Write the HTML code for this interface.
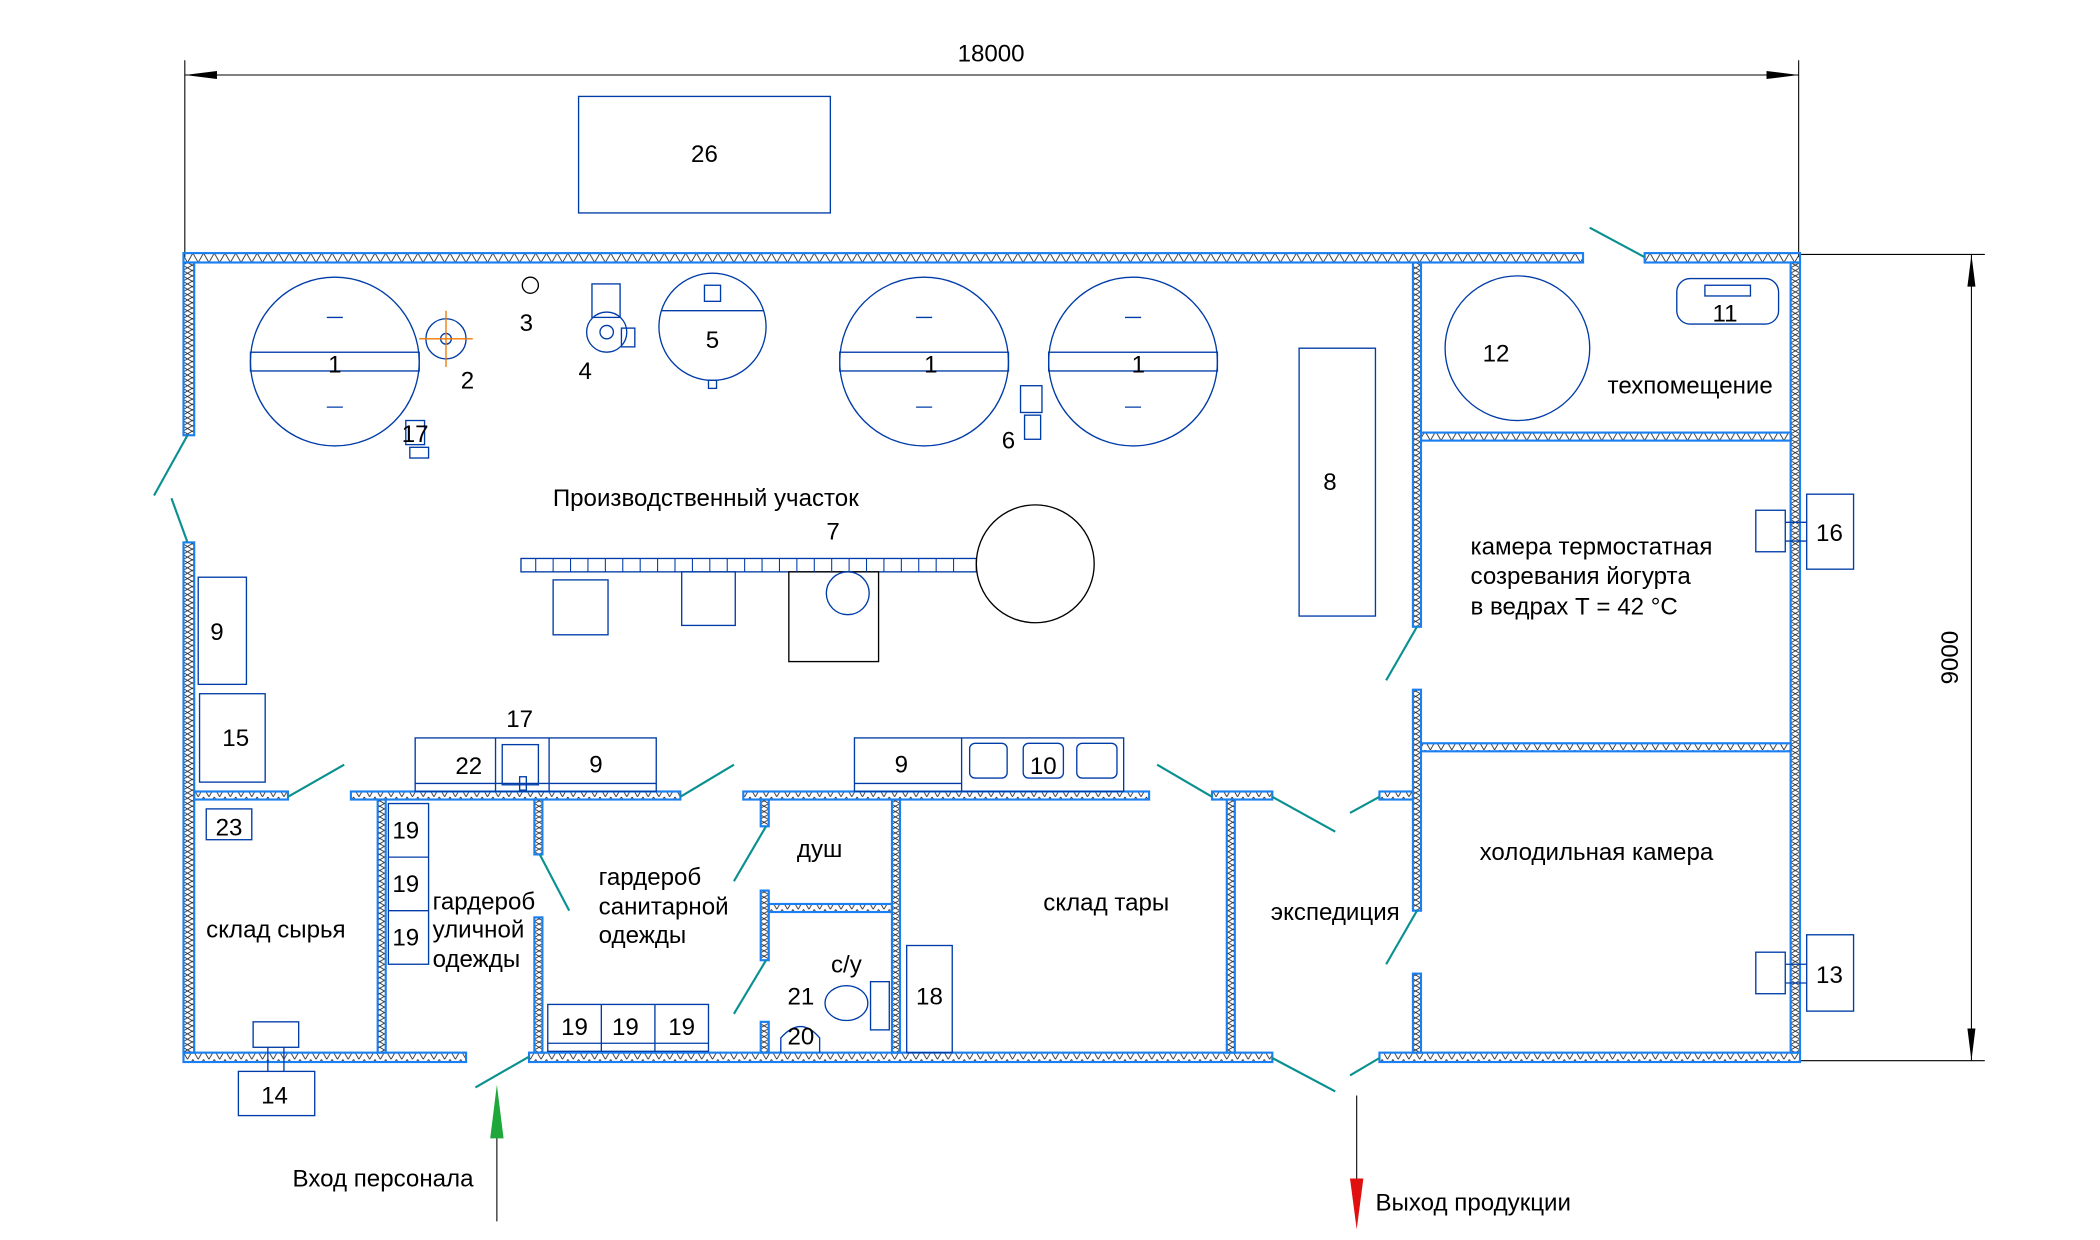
<!DOCTYPE html>
<html><head><meta charset="utf-8"><style>
html,body{margin:0;padding:0;background:#fff;}
svg{display:block}
text{font-family:"Liberation Sans Narrow","Liberation Sans",sans-serif;fill:#000;}
</style></head><body>
<svg width="2100" height="1240" viewBox="0 0 1568 925.9" preserveAspectRatio="none" xmlns="http://www.w3.org/2000/svg">
<defs>
<pattern id="hh" width="8" height="7" patternUnits="userSpaceOnUse"><path d="M0,0 L4,7 L8,0" fill="none" stroke="#222" stroke-width="0.6"/></pattern>
<pattern id="hv" width="7" height="8" patternUnits="userSpaceOnUse"><path d="M0,0 L7,4 L0,8 M7,0 L0,4 L7,8" fill="none" stroke="#222" stroke-width="0.6"/></pattern>
</defs>
<g fill="none" stroke="#000" stroke-width="0.8">
<line x1="138" y1="45" x2="138" y2="192"/><line x1="1343" y1="45" x2="1343" y2="192"/>
<line x1="138" y1="56" x2="1343" y2="56"/>
<line x1="1344" y1="190" x2="1482" y2="190"/><line x1="1344" y1="792" x2="1482" y2="792"/>
<line x1="1472" y1="190" x2="1472" y2="792"/>
</g>
<g fill="#000">
<path d="M138,56 L162,53 L162,59Z"/><path d="M1343,56 L1319,53 L1319,59Z"/>
<path d="M1472,190 L1469,214 L1475,214Z"/><path d="M1472,792 L1469,768 L1475,768Z"/>
</g>
<text x="740" y="46" font-size="18" text-anchor="middle">18000</text>
<text x="1462" y="491" font-size="18" text-anchor="middle" transform="rotate(-90 1462 491)">9000</text>

<g fill="url(#hh)" stroke="#1a7ff0" stroke-width="1.6">
<rect x="137" y="189" width="1045" height="7"/>
<rect x="1228" y="189" width="116" height="7"/>
<rect x="137" y="786" width="211" height="7"/>
<rect x="395" y="786" width="555" height="7"/>
<rect x="1030" y="786" width="314" height="7"/>
<rect x="1061" y="323" width="276" height="6"/>
<rect x="1061" y="555" width="276" height="6"/>
<rect x="145" y="591" width="70" height="6"/>
<rect x="262" y="591" width="246" height="6"/>
<rect x="555" y="591" width="303" height="6"/>
<rect x="905" y="591" width="45" height="6"/>
<rect x="1030" y="591" width="25" height="6"/>
<rect x="574" y="675" width="92" height="6"/>
</g>
<g fill="url(#hv)" stroke="#1a7ff0" stroke-width="1.6">
<rect x="137" y="196" width="8" height="129"/>
<rect x="137" y="405" width="8" height="381"/>
<rect x="1337" y="196" width="7" height="590"/>
<rect x="1055" y="196" width="6" height="272"/>
<rect x="1055" y="515" width="6" height="165"/>
<rect x="1055" y="727" width="6" height="59"/>
<rect x="282" y="597" width="6" height="189"/>
<rect x="399" y="597" width="6" height="41"/>
<rect x="399" y="685" width="6" height="101"/>
<rect x="568" y="597" width="6" height="20"/>
<rect x="568" y="665" width="6" height="52"/>
<rect x="568" y="763" width="6" height="23"/>
<rect x="666" y="597" width="6" height="189"/>
<rect x="916" y="597" width="6" height="189"/>
</g>
<g stroke="#0a9090" stroke-width="1.6">
<line x1="1187" y1="170" x2="1228" y2="192"/>
<line x1="140" y1="325" x2="115" y2="370"/><line x1="128" y1="372" x2="140" y2="405"/>
<line x1="215" y1="595" x2="257" y2="571"/><line x1="508" y1="595" x2="548" y2="571"/>
<line x1="548" y1="658" x2="572" y2="617"/><line x1="548" y1="757" x2="572" y2="717"/>
<line x1="403" y1="638" x2="425" y2="680"/><line x1="355" y1="812" x2="395" y2="789"/>
<line x1="864" y1="571" x2="905" y2="595"/><line x1="950" y1="595" x2="997" y2="621"/>
<line x1="1008" y1="607" x2="1030" y2="595"/><line x1="950" y1="790" x2="997" y2="815"/>
<line x1="1008" y1="803" x2="1030" y2="790"/><line x1="1035" y1="508" x2="1058" y2="468"/>
<line x1="1035" y1="720" x2="1058" y2="680"/>
</g>

<g fill="none" stroke="#003ca8" stroke-width="1">
<rect x="432" y="72" width="188" height="87"/>
<circle cx="250" cy="270" r="63"/><rect x="187" y="263" width="126" height="14"/>
<line x1="244" y1="237" x2="256" y2="237"/><line x1="244" y1="304" x2="256" y2="304"/>
<circle cx="690" cy="270" r="63"/><rect x="627" y="263" width="126" height="14"/>
<line x1="684" y1="237" x2="696" y2="237"/><line x1="684" y1="304" x2="696" y2="304"/>
<circle cx="846" cy="270" r="63"/><rect x="783" y="263" width="126" height="14"/>
<line x1="840" y1="237" x2="852" y2="237"/><line x1="840" y1="304" x2="852" y2="304"/>
<circle cx="333" cy="253" r="15"/><circle cx="333" cy="253" r="4"/>
<circle cx="396" cy="213" r="6" stroke="#000"/>
<rect x="442" y="212" width="21" height="25"/><circle cx="453" cy="248" r="15"/><circle cx="453" cy="248" r="5"/>
<rect x="464" y="245" width="10" height="14"/>
<circle cx="532" cy="244" r="40"/><line x1="494" y1="232" x2="570" y2="232"/><rect x="526" y="213" width="12" height="12"/><rect x="529" y="284" width="6" height="6"/>
<rect x="762" y="288" width="16" height="20"/><rect x="765" y="310" width="12" height="18"/>
<rect x="303" y="314" width="14" height="18"/><rect x="306" y="334" width="14" height="8"/>
<rect x="970" y="260" width="57" height="200"/>
<circle cx="1133" cy="260" r="54"/>
<rect x="1252" y="208" width="76" height="34" rx="10"/><rect x="1273" y="213" width="34" height="8"/>
<rect x="389" y="417" width="340" height="10"/>
<circle cx="773" cy="421" r="44" stroke="#000"/>
<rect x="413" y="433" width="41" height="41"/><rect x="509" y="427" width="40" height="40"/>
<rect x="589" y="427" width="67" height="67" stroke="#000"/><circle cx="633" cy="443" r="16"/>
<rect x="1349" y="369" width="35" height="56"/><rect x="1311" y="381" width="22" height="31"/><line x1="1333" y1="390" x2="1349" y2="390"/><line x1="1333" y1="404" x2="1349" y2="404"/>
<rect x="1349" y="698" width="35" height="57"/><rect x="1311" y="711" width="22" height="31"/><line x1="1333" y1="720" x2="1349" y2="720"/><line x1="1333" y1="734" x2="1349" y2="734"/>
<rect x="148" y="431" width="36" height="80"/><rect x="149" y="518" width="49" height="66"/>
<rect x="154" y="604" width="34" height="23"/>
<rect x="178" y="800" width="57" height="33"/><rect x="189" y="763" width="34" height="19"/><line x1="200" y1="782" x2="200" y2="800"/><line x1="212" y1="782" x2="212" y2="800"/>
<rect x="290" y="600" width="30" height="120"/><line x1="290" y1="640" x2="320" y2="640"/><line x1="290" y1="680" x2="320" y2="680"/>
<rect x="409" y="750" width="120" height="35"/><line x1="449" y1="750" x2="449" y2="785"/><line x1="489" y1="750" x2="489" y2="785"/><line x1="409" y1="779" x2="529" y2="779"/>
<rect x="310" y="551" width="180" height="40"/><line x1="370" y1="551" x2="370" y2="591"/><line x1="410" y1="551" x2="410" y2="591"/><line x1="310" y1="585" x2="490" y2="585"/>
<rect x="375" y="556" width="27" height="30"/><rect x="388" y="580" width="5" height="10"/>
<rect x="638" y="551" width="201" height="40"/><line x1="718" y1="551" x2="718" y2="591"/><line x1="638" y1="585" x2="718" y2="585"/>
<rect x="724" y="555" width="28" height="26" rx="4"/><rect x="764" y="555" width="30" height="26" rx="4"/><rect x="804" y="555" width="30" height="26" rx="4"/>
<rect x="677" y="706" width="34" height="80"/>
<ellipse cx="632" cy="749" rx="16" ry="13"/><rect x="650" y="733" width="14" height="36"/>
<path d="M583,786 L583,775 Q598,758 612,775 L612,786"/>
</g>
<g stroke="#003ca8" stroke-width="0.8">
<line x1="400" y1="417" x2="400" y2="427"/><line x1="413" y1="417" x2="413" y2="427"/><line x1="426" y1="417" x2="426" y2="427"/><line x1="439" y1="417" x2="439" y2="427"/><line x1="452" y1="417" x2="452" y2="427"/><line x1="465" y1="417" x2="465" y2="427"/><line x1="478" y1="417" x2="478" y2="427"/><line x1="491" y1="417" x2="491" y2="427"/><line x1="504" y1="417" x2="504" y2="427"/><line x1="517" y1="417" x2="517" y2="427"/><line x1="530" y1="417" x2="530" y2="427"/><line x1="543" y1="417" x2="543" y2="427"/><line x1="556" y1="417" x2="556" y2="427"/><line x1="569" y1="417" x2="569" y2="427"/><line x1="582" y1="417" x2="582" y2="427"/><line x1="595" y1="417" x2="595" y2="427"/><line x1="608" y1="417" x2="608" y2="427"/><line x1="621" y1="417" x2="621" y2="427"/><line x1="634" y1="417" x2="634" y2="427"/><line x1="647" y1="417" x2="647" y2="427"/><line x1="660" y1="417" x2="660" y2="427"/><line x1="673" y1="417" x2="673" y2="427"/><line x1="686" y1="417" x2="686" y2="427"/><line x1="699" y1="417" x2="699" y2="427"/><line x1="712" y1="417" x2="712" y2="427"/>
</g>
<g stroke="#f07800" stroke-width="1"><line x1="333" y1="232" x2="333" y2="274"/><line x1="313" y1="253" x2="353" y2="253"/></g>
<line x1="371" y1="912" x2="371" y2="830" stroke="#000" stroke-width="0.8"/>
<path d="M371,810 L366,850 L376,850Z" fill="#1fa83a"/>
<line x1="1013" y1="818" x2="1013" y2="900" stroke="#000" stroke-width="0.8"/>
<path d="M1013,918 L1008,880 L1018,880Z" fill="#e01010"/>

<g font-size="18" text-anchor="middle">
<text x="526" y="121">26</text>
<text x="250" y="278">1</text><text x="695" y="278">1</text><text x="850" y="278">1</text>
<text x="349" y="290">2</text><text x="393" y="247">3</text><text x="437" y="283">4</text><text x="532" y="260">5</text>
<text x="753" y="335">6</text><text x="310" y="330">17</text><text x="622" y="403">7</text>
<text x="993" y="366">8</text><text x="1117" y="270">12</text><text x="1288" y="240">11</text>
<text x="1366" y="404">16</text><text x="1366" y="734">13</text>
<text x="162" y="478">9</text><text x="176" y="557">15</text><text x="171" y="624">23</text><text x="205" y="824">14</text>
<text x="303" y="626">19</text><text x="303" y="666">19</text><text x="303" y="706">19</text>
<text x="429" y="773">19</text><text x="467" y="773">19</text><text x="509" y="773">19</text>
<text x="350" y="578">22</text><text x="388" y="543">17</text><text x="445" y="577">9</text>
<text x="673" y="577">9</text><text x="779" y="578">10</text>
<text x="694" y="750">18</text><text x="598" y="750">21</text><text x="598" y="780">20</text>
<text x="527" y="378">Производственный участок</text>
<text x="1262" y="294">техпомещение</text>
<text x="1192" y="642">холодильная камера</text>
<text x="997" y="687">экспедиция</text>
<text x="826" y="680">склад тары</text>
<text x="612" y="640">душ</text>
<text x="632" y="726">с/у</text>
<text x="206" y="700">склад сырья</text>
<text x="286" y="886">Вход персонала</text>
<text x="1100" y="904">Выход продукции</text>
</g>
<g font-size="18">
<text x="1098" y="414">камера термостатная</text>
<text x="1098" y="436">созревания йогурта</text>
<text x="1098" y="459">в ведрах Т = 42 °С</text>
<text x="323" y="679">гардероб</text><text x="323" y="700">уличной</text><text x="323" y="722">одежды</text>
<text x="447" y="661">гардероб</text><text x="447" y="683">санитарной</text><text x="447" y="704">одежды</text>
</g>
</svg>
</body></html>
